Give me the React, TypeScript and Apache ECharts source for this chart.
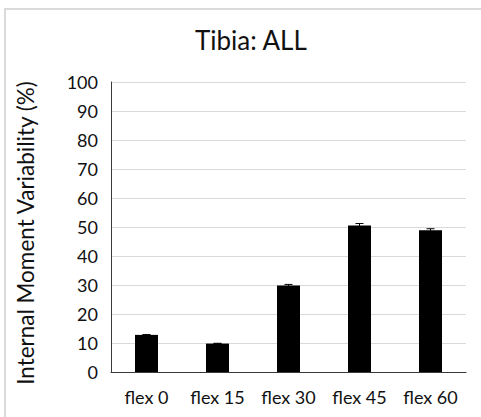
import React, { useEffect, useRef } from "react";
import * as echarts from "echarts";

// Flexion conditions and the mean variability with its error for each
const categories = ["flex 0", "flex 15", "flex 30", "flex 45", "flex 60"];
const meanValues = [12.8, 9.8, 29.8, 50.5, 48.9];
const errorValues = [0.1, 0.1, 0.4, 0.7, 0.5];
const yTicks = { min: 0, max: 100, interval: 10 };

const FONT = "Lato, 'Noto Sans', sans-serif";

export default function App() {
  const ref = useRef<HTMLDivElement>(null);

  useEffect(() => {
    if (!ref.current) return;
    const chart = echarts.init(ref.current, null, { renderer: "svg" });

    const errorData = categories.map((_, i) => [i, meanValues[i], errorValues[i]]);

    chart.setOption({
      animation: false,
      backgroundColor: "#ffffff",
      textStyle: { fontFamily: FONT },
      title: {
        text: "Tibia: ALL",
        left: 190,
        top: 22,
        textStyle: { fontFamily: FONT, fontSize: 26, fontWeight: "normal", color: "#111111" },
      },
      graphic: [
        {
          type: "line",
          shape: { x1: 4, y1: 9, x2: 481, y2: 9 },
          style: { stroke: "#dadada", lineWidth: 2 },
          silent: true,
        },
        {
          type: "line",
          shape: { x1: 5, y1: 9, x2: 5, y2: 417 },
          style: { stroke: "#dadada", lineWidth: 2 },
          silent: true,
        },
      ],
      grid: { left: 111, right: 15, top: 82, bottom: 45 },
      xAxis: {
        type: "category",
        data: categories,
        axisLine: { lineStyle: { color: "#3a3a3a", width: 1 } },
        axisTick: { show: false },
        axisLabel: { fontFamily: FONT, fontSize: 18, color: "#111111", margin: 16 },
      },
      yAxis: {
        type: "value",
        min: yTicks.min,
        max: yTicks.max,
        interval: yTicks.interval,
        name: "Internal Moment Variability (%)",
        nameLocation: "middle",
        nameGap: 74,
        nameTextStyle: { fontFamily: FONT, fontSize: 22.5, color: "#111111", padding: [0, 12, 0, 0] },
        axisLine: { show: true, lineStyle: { color: "#3a3a3a", width: 1 } },
        axisTick: { show: false },
        axisLabel: { fontFamily: FONT, fontSize: 18, color: "#111111", margin: 13 },
        splitLine: { lineStyle: { color: "#d9d9d9", width: 1 } },
      },
      series: [
        {
          type: "bar",
          data: meanValues,
          barWidth: 23,
          itemStyle: { color: "#000000" },
        },
        {
          type: "custom",
          z: 5,
          data: errorData,
          renderItem: (params: any, api: any) => {
            const idx = api.value(0);
            const v = api.value(1);
            const e = api.value(2);
            const hi = api.coord([idx, v + e]);
            const lo = api.coord([idx, v - e]);
            const half = 4;
            const style = { stroke: "#000000", lineWidth: 1 };
            return {
              type: "group",
              children: [
                { type: "line", shape: { x1: hi[0], y1: hi[1], x2: lo[0], y2: lo[1] }, style },
                { type: "line", shape: { x1: hi[0] - half, y1: hi[1], x2: hi[0] + half, y2: hi[1] }, style },
                { type: "line", shape: { x1: lo[0] - half, y1: lo[1], x2: lo[0] + half, y2: lo[1] }, style },
              ],
            };
          },
        },
      ],
    });

    return () => chart.dispose();
  }, []);

  return (
    <div
      ref={ref}
      style={{ position: "fixed", left: 0, top: 0, width: 481, height: 417 }}
    />
  );
}
